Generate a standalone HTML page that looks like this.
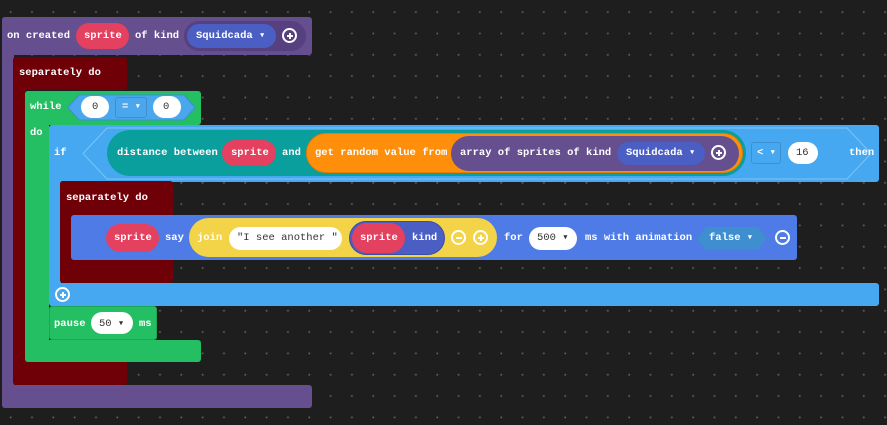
<!DOCTYPE html>
<html><head><meta charset="utf-8"><style>
*{margin:0;padding:0;box-sizing:border-box}
body{width:887px;height:425px;overflow:hidden;background:#1e1e1e;position:relative;font-family:"Liberation Mono","DejaVu Sans Mono",monospace;font-weight:bold;font-size:10.5px;color:#fff}
.bg{position:absolute;left:0;top:0;width:887px;height:425px;background-image:radial-gradient(circle,#5a5a5a 0.8px,transparent 1.2px);background-size:21.33px 21.33px;background-position:0px 1.5px}
.b{position:absolute;border-radius:3px}
.p{position:absolute;border-radius:14px}
.t{position:absolute;white-space:nowrap;line-height:12px}
.c{position:absolute;width:15px;height:15px;border:2px solid #fff;border-radius:50%}
.c:before{content:"";position:absolute;left:2.5px;top:4.5px;width:6px;height:2px;background:#fff}
.plus:after{content:"";position:absolute;left:4.5px;top:2.5px;width:2px;height:6px;background:#fff}
.dk{color:#333;font-weight:normal}
</style></head><body>
<div class="bg"></div>

<!-- purple hat -->
<div class="b" style="left:2px;top:17px;width:310px;height:38px;background:#664f8e"></div>
<div class="b" style="left:2px;top:17px;width:12px;height:391px;background:#664f8e"></div>
<div class="b" style="left:2px;top:385px;width:310px;height:23px;background:#664f8e"></div>
<div class="t" style="left:7px;top:30px">on created</div>
<div class="p" style="left:76px;top:23px;width:53px;height:26px;background:#e4405f"></div>
<div class="t" style="left:84px;top:30px">sprite</div>
<div class="t" style="left:135px;top:30px">of kind</div>
<div class="p" style="left:184px;top:21px;width:122px;height:30px;background:#564080;border-radius:15px"></div>
<div class="p" style="left:187px;top:24px;width:89px;height:24px;background:#4a5ec4;border-radius:12px"></div>
<div class="t" style="left:196px;top:30px">Squidcada ▾</div>
<div class="c plus" style="left:282px;top:28px"></div>

<!-- dark red outer -->
<div class="b" style="left:13px;top:57px;width:114px;height:33px;background:#6f0008"></div>
<div class="b" style="left:13px;top:57px;width:13px;height:328px;background:#6f0008"></div>
<div class="b" style="left:13px;top:340px;width:114px;height:45px;background:#6f0008"></div>
<div class="t" style="left:19px;top:67px">separately do</div>

<!-- green while -->
<div class="b" style="left:25px;top:91px;width:176px;height:34px;background:#23bf62"></div>
<div class="b" style="left:25px;top:91px;width:24px;height:271px;background:#23bf62"></div>
<div class="b" style="left:25px;top:340px;width:176px;height:22px;background:#23bf62"></div>
<div class="t" style="left:30px;top:101px">while</div>
<div class="t" style="left:30px;top:127px">do</div>
<svg style="position:absolute;left:67px;top:94px" width="130" height="27"><polygon points="1,13.5 12,1 117,1 128,13.5 117,26 12,26" fill="#4aa7ee" stroke="#3d8fd0"/></svg>
<div class="p" style="left:81px;top:96px;width:28px;height:22px;background:#fff;border-radius:11px"></div>
<div class="t dk" style="left:92px;top:101px">0</div>
<div class="b" style="left:115px;top:97px;width:32px;height:21px;background:#4aa7ee;border:1px solid #3d8fd0"></div>
<div class="t" style="left:122px;top:101px">= ▾</div>
<div class="p" style="left:153px;top:96px;width:28px;height:22px;background:#fff;border-radius:11px"></div>
<div class="t dk" style="left:163px;top:101px">0</div>

<!-- blue if -->
<div class="b" style="left:49px;top:125px;width:830px;height:57px;background:#46a8f0"></div>
<div class="b" style="left:49px;top:125px;width:12px;height:181px;background:#46a8f0"></div>
<div class="b" style="left:49px;top:283px;width:830px;height:23px;background:#46a8f0"></div>
<div class="t" style="left:54px;top:147px">if</div>
<svg style="position:absolute;left:82px;top:127px" width="790" height="53"><polygon points="1,26.5 25,1 765,1 789,26.5 765,52 25,52" fill="none" stroke="#7cc4f6"/></svg>
<div class="p" style="left:107px;top:130px;width:639px;height:46px;background:#0a9e9d;border-radius:23px"></div>
<div class="t" style="left:117px;top:147px">distance between</div>
<div class="p" style="left:222px;top:140px;width:54px;height:26px;background:#e4405f;border-radius:13px"></div>
<div class="t" style="left:231px;top:147px">sprite</div>
<div class="t" style="left:282px;top:147px">and</div>
<div class="p" style="left:306px;top:133px;width:437px;height:40px;background:#ff8f0a;border-radius:20px;border:1px solid #e67e00"></div>
<div class="t" style="left:315px;top:147px">get random value from</div>
<div class="p" style="left:451px;top:136px;width:288px;height:35px;background:#654f8e;border-radius:18px"></div>
<div class="t" style="left:460px;top:147px">array of sprites of kind</div>
<div class="p" style="left:617px;top:142px;width:88px;height:23px;background:#4a5ec4;border-radius:12px"></div>
<div class="t" style="left:626px;top:147px">Squidcada ▾</div>
<div class="c plus" style="left:711px;top:145px"></div>
<div class="b" style="left:751px;top:142px;width:30px;height:22px;background:#46a8f0;border:1px solid #3d8fd0"></div>
<div class="t" style="left:757px;top:147px">&lt; ▾</div>
<div class="p" style="left:788px;top:142px;width:30px;height:22px;background:#fff;border-radius:11px"></div>
<div class="t dk" style="left:796px;top:147px">16</div>
<div class="t" style="left:849px;top:147px">then</div>

<!-- inner dark red -->
<div class="b" style="left:60px;top:181px;width:113px;height:36px;background:#6f0008"></div>
<div class="b" style="left:60px;top:181px;width:13px;height:102px;background:#6f0008"></div>
<div class="b" style="left:60px;top:258px;width:113px;height:25px;background:#6f0008"></div>
<div class="t" style="left:66px;top:192px">separately do</div>

<!-- say block -->
<div class="b" style="left:71px;top:215px;width:726px;height:45px;background:#4f7be6"></div>
<div class="p" style="left:106px;top:224px;width:53px;height:28px;background:#e4405f"></div>
<div class="t" style="left:114px;top:232px">sprite</div>
<div class="t" style="left:165px;top:232px">say</div>
<div class="p" style="left:189px;top:218px;width:308px;height:39px;background:#f3d348;border-radius:20px"></div>
<div class="t" style="left:197px;top:232px">join</div>
<div class="p" style="left:229px;top:227px;width:113px;height:23px;background:#fff;border-radius:12px"></div>
<div class="t dk" style="left:237px;top:232px">"I see another "</div>
<div class="p" style="left:349px;top:221px;width:96px;height:34px;background:#4a5ec4;border-radius:17px;border:1px solid #3a4ea8"></div>
<div class="p" style="left:352px;top:223px;width:53px;height:30px;background:#e4405f;border-radius:15px"></div>
<div class="t" style="left:360px;top:232px">sprite</div>
<div class="t" style="left:412px;top:232px">kind</div>
<div class="c" style="left:451px;top:230px"></div>
<div class="c plus" style="left:473px;top:230px"></div>
<div class="t" style="left:504px;top:232px">for</div>
<div class="p" style="left:529px;top:227px;width:48px;height:23px;background:#fff;border-radius:12px"></div>
<div class="t dk" style="left:537px;top:232px">500 ▾</div>
<div class="t" style="left:585px;top:232px">ms with animation</div>
<svg style="position:absolute;left:696px;top:226px" width="72" height="25"><polygon points="1,12.5 10,1 62,1 71,12.5 62,24 10,24" fill="#3e8ed0"/></svg>
<div class="t" style="left:709px;top:232px">false ▾</div>
<div class="c" style="left:775px;top:230px"></div>

<div class="c plus" style="left:55px;top:287px"></div>

<!-- pause -->
<div class="b" style="left:49px;top:306px;width:108px;height:34px;background:#23bf62;border:1px solid #1ea655"></div>
<div class="t" style="left:54px;top:318px">pause</div>
<div class="p" style="left:91px;top:312px;width:42px;height:22px;background:#fff;border-radius:11px"></div>
<div class="t dk" style="left:99px;top:318px">50 ▾</div>
<div class="t" style="left:139px;top:318px">ms</div>
</body></html>
